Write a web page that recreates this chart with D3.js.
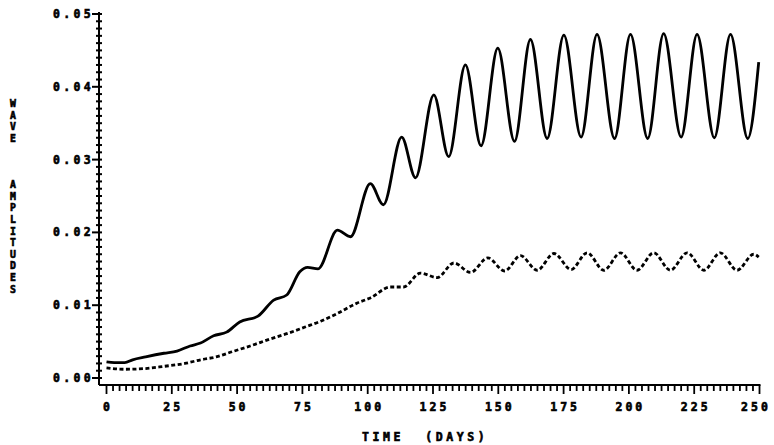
<!DOCTYPE html>
<html>
<head>
<meta charset="utf-8">
<script src="https://cdn.jsdelivr.net/npm/d3@7"></script>
<style>
  body { margin: 0; background: #fff; }
  text { font-family: "DejaVu Sans Mono", monospace; font-weight: bold; fill: #000; stroke: #000; stroke-width: 0.6px; }
</style>
</head>
<body>
<script>
// time (days) and amplitudes
var solidT = [0, 3, 7, 10, 15, 22, 27, 32, 36, 41, 46, 51, 58, 64, 69, 74, 77, 81, 88.4, 93.4,
    101, 106, 113, 118.3, 125.3, 131, 137.4, 143.4, 149.8, 156.2, 162.3, 168.7, 175.1, 181.7,
    187.8, 194.5, 200.6, 207.2, 213.3, 220, 226.1, 232.7, 238.9, 245.5, 249.7];
var solidV = [0.0022, 0.0021, 0.0021, 0.0025, 0.0029, 0.0034, 0.0037, 0.0044, 0.0048, 0.0058, 0.0063,
    0.0077, 0.0085, 0.0107, 0.0114, 0.0146, 0.0152, 0.0150, 0.0203, 0.0194,
    0.0267, 0.0238, 0.0331, 0.0275, 0.0389, 0.0304, 0.0430, 0.0319, 0.0453, 0.0325, 0.0465, 0.0329,
    0.0471, 0.0331, 0.0472, 0.0329, 0.0472, 0.0329, 0.0473, 0.0331, 0.0472, 0.0330, 0.0472, 0.0329, 0.0434];

var dashT = [0, 7, 15, 22, 30, 36, 42, 48, 55, 63, 70, 76, 82, 88, 96, 101, 108.7, 113.7, 120.2,
    126.6, 133, 139.4, 146, 152.4, 158.5, 164.9, 171.3, 177.9, 184, 190.4, 196.8, 203.1,
    209.5, 215.9, 222.3, 228.7, 235, 241.4, 247.8, 249.7];
var dashV = [0.0014, 0.0012, 0.0013, 0.0016, 0.0020, 0.0025, 0.0029, 0.0036, 0.0044, 0.0054, 0.0062,
    0.0070, 0.0078, 0.0088, 0.0103, 0.0110, 0.0125, 0.0125, 0.0144,
    0.0138, 0.0158, 0.0145, 0.0165, 0.0147, 0.0168, 0.0148, 0.0171, 0.0149, 0.0172, 0.0148, 0.0172, 0.0148,
    0.0172, 0.0148, 0.0172, 0.0148, 0.0172, 0.0148, 0.0170, 0.0166];

var xTicks = [0, 25, 50, 75, 100, 125, 150, 175, 200, 225, 250];
var yTicks = [0, 0.01, 0.02, 0.03, 0.04, 0.05];
var yTickLabels = ["0.00", "0.01", "0.02", "0.03", "0.04", "0.05"];

var width = 774;
var height = 445;

var svg = d3.select('body')
    .append('svg')
    .attr('width', width)
    .attr('height', height);

var x = d3.scaleLinear().domain([0, 250]).range([106.5, 759.5]);
var y = d3.scaleLinear().domain([0, 0.05]).range([378, 14]);

var axisX = 99;   // y axis line position
var axisY = 385;  // x axis line position

// y axis
svg.append('line')
    .attr('x1', axisX).attr('x2', axisX)
    .attr('y1', y(0.05) - 2).attr('y2', axisY)
    .attr('stroke', '#000').attr('stroke-width', 2);

var yMinor = d3.range(0, 51).map(function(i) { return i * 0.001; });
svg.append('g').selectAll('line')
    .data(yMinor)
    .enter()
    .append('line')
    .attr('x1', function(d, i) { return i % 10 === 0 ? axisX - 7 : axisX - 3; })
    .attr('x2', axisX + 3)
    .attr('y1', function(d) { return y(d); })
    .attr('y2', function(d) { return y(d); })
    .attr('stroke', '#000').attr('stroke-width', 2);

svg.append('g').selectAll('text')
    .data(yTicks)
    .enter()
    .append('text')
    .attr('x', axisX - 5)
    .attr('y', function(d) { return y(d) + 4; })
    .attr('text-anchor', 'end')
    .attr('font-size', 11.5)
    .attr('letter-spacing', 3.3)
    .text(function(d, i) { return yTickLabels[i]; });

// x axis
svg.append('line')
    .attr('x1', axisX).attr('x2', x(250) + 1)
    .attr('y1', axisY).attr('y2', axisY)
    .attr('stroke', '#000').attr('stroke-width', 2);

var xMinor = d3.range(0, 101).map(function(i) { return i * 2.5; });
svg.append('g').selectAll('line')
    .data(xMinor)
    .enter()
    .append('line')
    .attr('x1', function(d) { return x(d); })
    .attr('x2', function(d) { return x(d); })
    .attr('y1', axisY)
    .attr('y2', function(d, i) { return i % 10 === 0 ? axisY + 9 : axisY + 6; })
    .attr('stroke', '#000').attr('stroke-width', 1.8);

svg.append('g').selectAll('text')
    .data(xTicks)
    .enter()
    .append('text')
    .attr('x', function(d) { return Math.min(x(d) + 1.5, 756); })
    .attr('y', 411)
    .attr('text-anchor', 'middle')
    .attr('font-size', 11.5)
    .attr('letter-spacing', 3)
    .text(function(d) { return d; });

// axis titles
svg.append('text')
    .attr('x', 362)
    .attr('y', 441)
    .attr('font-size', 11.5)
    .attr('letter-spacing', 3.6)
    .attr('xml:space', 'preserve')
    .style('white-space', 'pre')
    .text('TIME  (DAYS)');

var yTitle = 'WAVE   AMPLITUDES'.split('');
svg.append('g').selectAll('text')
    .data(yTitle)
    .enter()
    .append('text')
    .attr('x', 13)
    .attr('y', function(d, i) { return 107 + i * 11.6; })
    .attr('text-anchor', 'middle')
    .attr('font-size', 9.8)
    .text(function(d) { return d; });

// curves
var line = d3.line()
    .x(function(d) { return x(d[0]); })
    .y(function(d) { return y(d[1]); })
    .curve(d3.curveMonotoneX);

var solid = solidT.map(function(t, i) { return [t, solidV[i]]; });
var dashed = dashT.map(function(t, i) { return [t, dashV[i]]; });

svg.append('path')
    .attr('d', line(solid))
    .attr('fill', 'none')
    .attr('stroke', '#000')
    .attr('stroke-width', 2.8);

svg.append('path')
    .attr('d', line(dashed))
    .attr('fill', 'none')
    .attr('stroke', '#000')
    .attr('stroke-width', 2.8)
    .attr('stroke-dasharray', '4,2.5');
</script>
</body>
</html>
